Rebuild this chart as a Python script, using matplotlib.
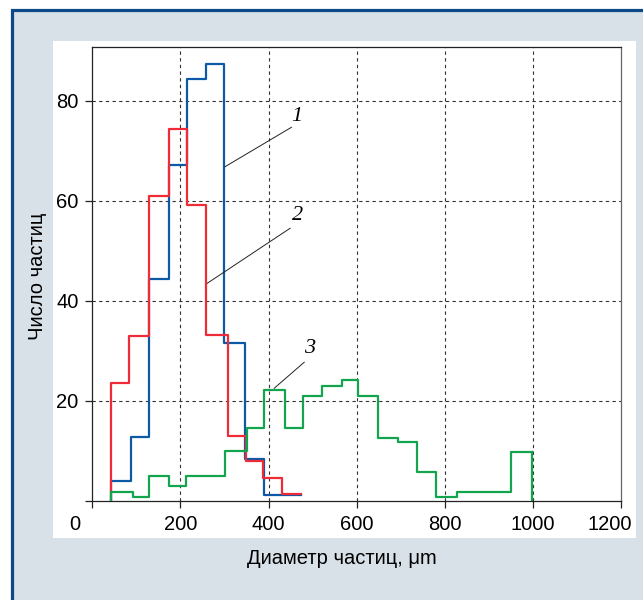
import matplotlib
matplotlib.use("Agg")
import matplotlib.pyplot as plt
import matplotlib.patches as mpatches
import matplotlib.transforms as mtransforms

# bin edges and counts
blue_edges = [42, 87, 129, 175, 215, 259, 298, 346, 390, 473]
blue_counts = [3.9, 12.7, 44.3, 67.1, 84.4, 87.4, 31.6, 8.4, 1.2]

red_edges = [42, 83, 129, 173, 215, 258, 307, 348, 387, 431, 473]
red_counts = [23.6, 32.9, 61.0, 74.3, 59.2, 33.1, 12.9, 7.9, 4.6, 1.3]

green_edges = [42, 93, 129, 175, 213, 301, 350, 390, 437, 479, 522, 567,
               604, 648, 693, 738, 780, 828, 950, 997]
green_counts = [1.8, 0.7, 4.9, 3.0, 4.9, 9.9, 14.5, 22.1, 14.6, 20.9, 23.0,
                24.1, 20.9, 12.6, 11.7, 5.7, 0.8, 1.8, 9.8]

x_ticks = [0, 200, 400, 600, 800, 1000, 1200]
y_ticks = [0, 20, 40, 60, 80]
y_tick_labels = ["", "20", "40", "60", "80"]

# leader lines: (label, label position, line start, line end)
callouts = [
    ("1", (464, 76.8), (452, 74.7), (301, 66.8)),
    ("2", (465, 57.1), (449, 54.5), (261, 43.5)),
    ("3", (494, 30.5), (481, 27.7), (413, 22.5)),
]

BG = "#d8e0e8"
BORDER = "#0b4a87"
sans = ["Liberation Sans Narrow", "Liberation Sans", "DejaVu Sans"]

fig = plt.figure(figsize=(6.43, 6.0), dpi=100, facecolor="white")
W, H = 643.0, 600.0

# grey panel with dark blue border on the left and top
frame = mpatches.Rectangle((12 / W, -0.1), 2.0, 1.1 - 10 / H,
                           transform=fig.transFigure, facecolor=BG,
                           edgecolor=BORDER, linewidth=2.3, zorder=-3,
                           clip_on=False)
fig.add_artist(frame)
panel = mpatches.Rectangle((52.7 / W, 1 - 537.7 / H), (635.7 - 52.7) / W,
                           (537.7 - 41) / H, transform=fig.transFigure,
                           facecolor="white", edgecolor="none", zorder=-2)
fig.add_artist(panel)

ax = fig.add_axes([92.3 / W, 1 - 500.7 / H, (621 - 92.3) / W, (500.7 - 47.3) / H])
ax.set_facecolor("white")
ax.set_xlim(0, 1200)
ax.set_ylim(0, 90.7)


def draw_hist(edges, counts, color):
    xs = [edges[0]] + list(edges)
    ys = [0] + list(counts) + [counts[-1]]
    ax.step(xs, ys, where="post", color=color, linewidth=1.6, zorder=3)


draw_hist(blue_edges, blue_counts, "#0c59a6")
draw_hist(red_edges, red_counts, "#ee2b36")
draw_hist(green_edges, green_counts, "#12a54e")
# green drops back to the axis at the end
ax.plot([green_edges[-1], green_edges[-1]], [green_counts[-1], 0],
        color="#12a54e", linewidth=1.6, zorder=3)

for label, pos, p1, p2 in callouts:
    ax.plot([p1[0], p2[0]], [p1[1], p2[1]], color="#222222", linewidth=0.7,
            zorder=4)
    ax.text(pos[0], pos[1], label, fontsize=16, style="italic",
            family=["Liberation Serif", "DejaVu Serif"], ha="center",
            va="center", zorder=5)

for xv in x_ticks[1:-1]:
    ax.axvline(xv, color="#333333", linestyle=(0, (3, 3)), linewidth=0.8,
               zorder=1)
for yv in y_ticks[1:]:
    ax.axhline(yv, color="#333333", linestyle=(0, (3, 3)), linewidth=0.8,
               zorder=1)

ax.set_xticks(x_ticks)
ax.set_xticklabels([str(v) for v in x_ticks])
ax.set_yticks(y_ticks)
ax.set_yticklabels(y_tick_labels)
ax.tick_params(direction="out", length=5, width=0.9, color="#222222",
               labelsize=14.5, pad=5)
for lbl in ax.get_xticklabels() + ax.get_yticklabels():
    lbl.set_family(sans)

# shift the end labels like in the reference
xl = ax.get_xticklabels()
xl[0].set_transform(xl[0].get_transform() +
                    mtransforms.ScaledTranslation(-0.17, 0, fig.dpi_scale_trans))
xl[-1].set_transform(xl[-1].get_transform() +
                     mtransforms.ScaledTranslation(-0.11, 0, fig.dpi_scale_trans))

for side in ["left", "bottom", "top"]:
    ax.spines[side].set_color("#222222")
    ax.spines[side].set_linewidth(0.9)
ax.spines["right"].set_color("#666666")
ax.spines["right"].set_linewidth(0.9)

fig.text(342 / W, 1 - 559 / H, "Диаметр частиц, μm", fontsize=14.5,
         family=sans, ha="center", va="center")
fig.text(37.3 / W, 1 - 276.7 / H, "Число частиц", fontsize=14.5,
         family=sans, ha="center", va="center", rotation=90)

fig.savefig("out.png", dpi=100, facecolor="white")
